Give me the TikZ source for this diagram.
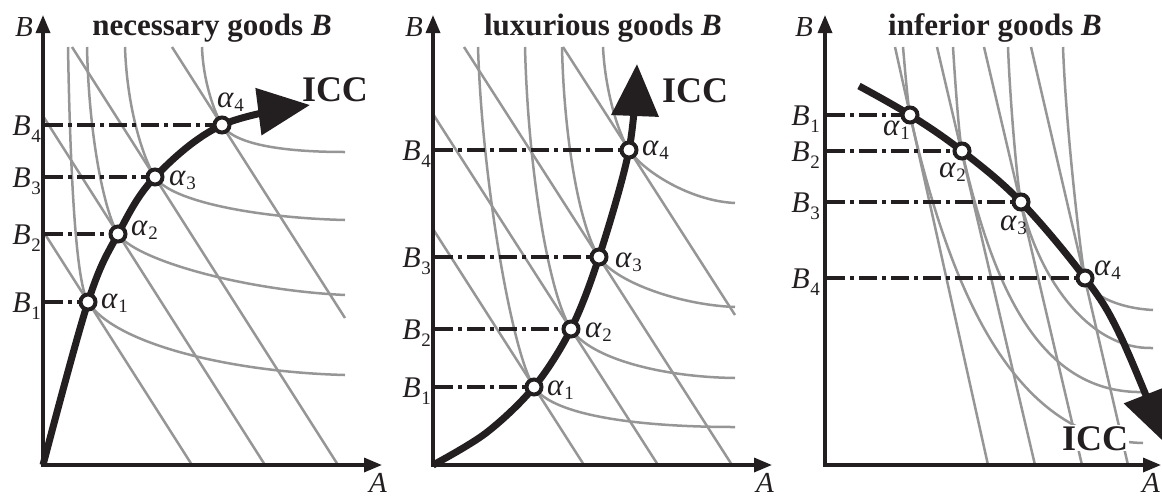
\documentclass[tikz,border=0pt]{standalone}
\usepackage{fontspec}
\setmainfont{Liberation Serif}
\usetikzlibrary{arrows.meta}
\definecolor{ink}{RGB}{35,31,32}
\definecolor{gline}{RGB}{150,150,150}
\newcommand{\Blab}[1]{\textit{B}\kern0.5pt\raisebox{-7pt}{\fontsize{19}{19}\selectfont #1}}
\newcommand{\Alab}[1]{\textit{α}\kern0.5pt\raisebox{-4pt}{\fontsize{19}{19}\selectfont #1}}
\begin{document}
\begin{tikzpicture}[x=1pt,y=-1pt,
  gl/.style={draw=gline, line width=2.5pt},
  axisline/.style={draw=ink, line width=3.3pt, {Triangle[length=18pt,width=14pt]}-{Triangle[length=18pt,width=14pt]}},
  icc/.style={draw=ink, line width=7pt, -{Triangle[length=52pt,width=46pt]}},
  guide/.style={draw=ink, line width=3.2pt, dash pattern=on 18pt off 5pt on 4pt off 5pt},
  apt/.style={circle, draw=ink, fill=white, line width=4pt, minimum size=15pt, inner sep=0pt},
  blab/.style={anchor=base east, font=\fontsize{30}{30}\selectfont, inner sep=0pt, text=ink},
  alab/.style={anchor=base west, font=\fontsize{31}{31}\selectfont, inner sep=0pt, text=ink},
  ttl/.style={anchor=base, font=\fontsize{31}{31}\selectfont\bfseries, inner sep=0pt, text=ink},
  icct/.style={anchor=base, font=\fontsize{36}{36}\selectfont\bfseries, inner sep=0pt, text=ink},
  axl/.style={font=\fontsize{29}{29}\selectfont\itshape, inner sep=0pt, text=ink},
]
\useasboundingbox (0,0) rectangle (1162,499);

% ================= Panel 1 =================
\coordinate (o1) at (43,465);
\coordinate (y1) at (43,15);
\coordinate (x1) at (382,465);
\coordinate (a11) at (88,302);
\coordinate (a12) at (118,234);
\coordinate (a13) at (155,177);
\coordinate (a14) at (222,125);
\coordinate (g11) at (45,302);
\coordinate (g12) at (45,234);
\coordinate (g13) at (45,177);
\coordinate (g14) at (45,125);

\draw[gl] (43,231) -- (192,465);
\draw[gl] (43,116) -- (265,465);
\draw[gl] (72,47) -- (338,465);
\draw[gl] (172,47) -- (345,318);
\draw[gl] (68,47) .. controls (70,160) and (75,281) .. (a11) .. controls (115,344) and (230,372) .. (345,375);
\draw[gl] (87,47) .. controls (89,140) and (105,213) .. (a12) .. controls (134,259) and (240,290) .. (345,295);
\draw[gl] (125,47) .. controls (127,110) and (144,160) .. (a13) .. controls (171,202) and (260,218) .. (345,220);
\draw[gl] (202,47) .. controls (203,80) and (214,112) .. (a14) .. controls (235,146) and (290,152) .. (345,152);

\draw[axisline] (y1) -- (o1) -- (x1);
\draw[guide] (g11) -- (a11);
\draw[guide] (g12) -- (a12);
\draw[guide] (g13) -- (a13);
\draw[guide] (g14) -- (a14);
\draw[icc] plot[smooth, tension=0.6] coordinates {(43,465) (88,302) (118,234) (155,177) (222,125) (310,105)};
\node[apt] (c11) at (a11) {};
\node[apt] (c12) at (a12) {};
\node[apt] (c13) at (a13) {};
\node[apt] (c14) at (a14) {};

\node[blab] (b11) at (41,312) {\Blab{1}};
\node[blab] (b12) at (41,244) {\Blab{2}};
\node[blab] (b13) at (41,187) {\Blab{3}};
\node[blab] (b14) at (41,135) {\Blab{4}};
\node[alab] (l11) at (101,308) {\Alab{1}};
\node[alab] (l12) at (131,235) {\Alab{2}};
\node[alab] (l13) at (169,185) {\Alab{3}};
\node[alab] (l14) at (217,107) {\Alab{4}};
\node[ttl] (t1) at (212,35) {necessary goods \textit{B}};
\node[icct] (i1) at (335,101) {ICC};
\node[axl, anchor=base east] (yb1) at (33,36) {B};
\node[axl, anchor=base west] (xa1) at (369,492) {A};

% ================= Panel 2 =================
\coordinate (o2) at (433,465);
\coordinate (y2) at (433,15);
\coordinate (x2) at (772,465);
\coordinate (a21) at (534,387);
\coordinate (a22) at (571,329);
\coordinate (a23) at (599,257);
\coordinate (a24) at (629,150);
\coordinate (g21) at (435,387);
\coordinate (g22) at (435,329);
\coordinate (g23) at (435,257);
\coordinate (g24) at (435,150);

\draw[gl] (433,229) -- (584,465);
\draw[gl] (433,114) -- (658,465);
\draw[gl] (464,47) -- (732,465);
\draw[gl] (563,47) -- (735,315);
\draw[gl] (478,47) .. controls (482,180) and (512,353) .. (a21) .. controls (553,416) and (640,427) .. (735,427);
\draw[gl] (525,47) .. controls (528,170) and (549,295) .. (a22) .. controls (590,358) and (660,377) .. (735,378);
\draw[gl] (562,47) .. controls (564,140) and (580,228) .. (a23) .. controls (615,282) and (680,305) .. (735,307);
\draw[gl] (603,47) .. controls (605,90) and (618,133) .. (a24) .. controls (643,171) and (690,201) .. (735,203);

\draw[axisline] (y2) -- (o2) -- (x2);
\draw[guide] (g21) -- (a21);
\draw[guide] (g22) -- (a22);
\draw[guide] (g23) -- (a23);
\draw[guide] (g24) -- (a24);
\draw[icc] plot[smooth, tension=0.55] coordinates {(433,465) (486,433) (534,387) (571,329) (599,257) (629,150) (637,64)};
\node[apt] (c21) at (a21) {};
\node[apt] (c22) at (a22) {};
\node[apt] (c23) at (a23) {};
\node[apt] (c24) at (a24) {};

\node[blab] (b21) at (431,397) {\Blab{1}};
\node[blab] (b22) at (431,339) {\Blab{2}};
\node[blab] (b23) at (431,267) {\Blab{3}};
\node[blab] (b24) at (431,160) {\Blab{4}};
\node[alab] (l21) at (547,395) {\Alab{1}};
\node[alab] (l22) at (585,337) {\Alab{2}};
\node[alab] (l23) at (615,267) {\Alab{3}};
\node[alab] (l24) at (642,155) {\Alab{4}};
\node[ttl] (t2) at (603,35) {luxurious goods \textit{B}};
\node[icct] (i2) at (695,102) {ICC};
\node[axl, anchor=base east] (yb2) at (423,36) {B};
\node[axl, anchor=base west] (xa2) at (756,492) {A};

% ================= Panel 3 =================
\coordinate (o3) at (825,465);
\coordinate (y3) at (825,15);
\coordinate (x3) at (1161,465);
\coordinate (a31) at (910,115);
\coordinate (a32) at (962,151);
\coordinate (a33) at (1021,202);
\coordinate (a34) at (1085,278);
\coordinate (g31) at (827,115);
\coordinate (g32) at (827,151);
\coordinate (g33) at (827,202);
\coordinate (g34) at (827,278);

\draw[gl] (895,47) -- (988,465);
\draw[gl] (937,47) -- (1035,465);
\draw[gl] (984,47) -- (1082,465);
\draw[gl] (1031,47) -- (1128,465);
\draw[gl] (903,47) .. controls (905,70) and (908,105) .. (a31) .. controls (948,281) and (1010,440) .. (1143,443);
\draw[gl] (953,47) .. controls (955,80) and (959,136) .. (a32) .. controls (993,288) and (1040,395) .. (1145,392);
\draw[gl] (1008,47) .. controls (1010,100) and (1017,182) .. (a33) .. controls (1039,280) and (1090,350) .. (1153,348);
\draw[gl] (1063,47) .. controls (1066,130) and (1081,258) .. (a34) .. controls (1088,293) and (1115,308) .. (1153,310);

\draw[axisline] (y3) -- (o3) -- (x3);
\node[icct, fill=white, inner sep=1pt] (i3) at (1095,450) {ICC};
\draw[guide] (g31) -- (a31);
\draw[guide] (g32) -- (a32);
\draw[guide] (g33) -- (a33);
\draw[guide] (g34) -- (a34);
\draw[icc] plot[smooth, tension=0.6] coordinates {(859,86) (910,115) (962,151) (1021,202) (1085,278) (1120,335) (1165,443)};
\node[apt] (c31) at (a31) {};
\node[apt] (c32) at (a32) {};
\node[apt] (c33) at (a33) {};
\node[apt] (c34) at (a34) {};

\node[blab] (b31) at (820,125) {\Blab{1}};
\node[blab] (b32) at (820,161) {\Blab{2}};
\node[blab] (b33) at (820,212) {\Blab{3}};
\node[blab] (b34) at (820,288) {\Blab{4}};
\node[alab] (l31) at (883,135) {\Alab{1}};
\node[alab] (l32) at (939,177) {\Alab{2}};
\node[alab] (l33) at (1000,230) {\Alab{3}};
\node[alab] (l34) at (1094,275) {\Alab{4}};
\node[ttl] (t3) at (995,35) {inferior goods \textit{B}};
\node[axl, anchor=base east] (yb3) at (813,36) {B};
\node[axl, anchor=base east] (xa3) at (1160,492) {A};
\end{tikzpicture}
\end{document}
